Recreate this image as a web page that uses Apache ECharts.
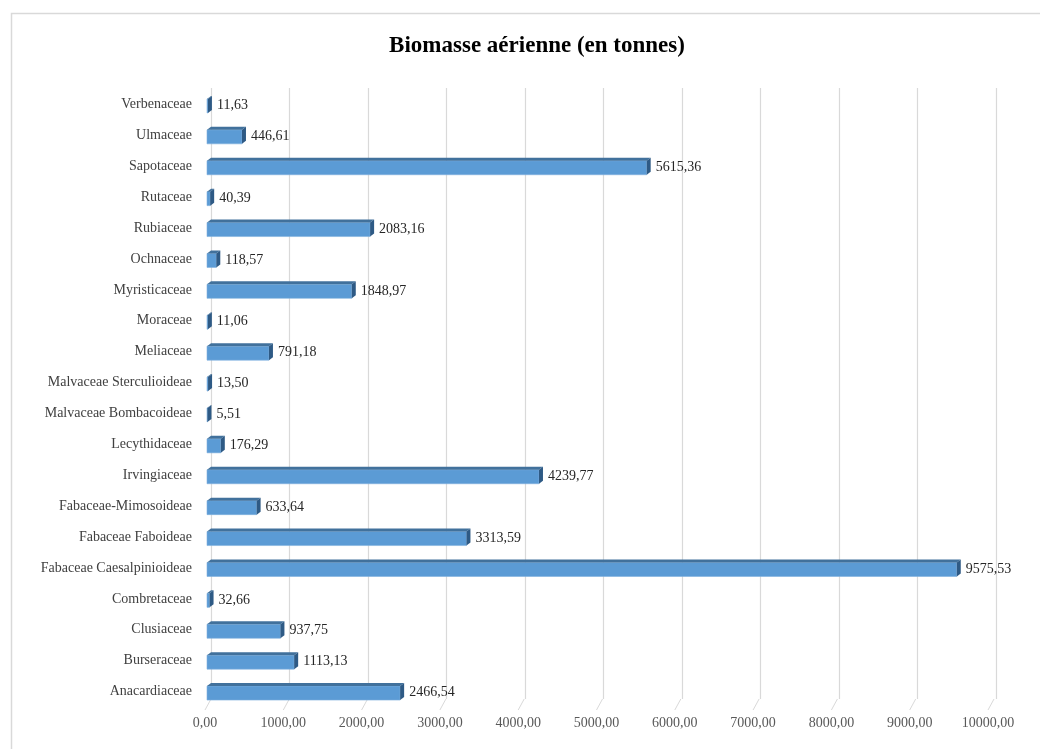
<!DOCTYPE html>
<html>
<head>
<meta charset="utf-8">
<script src="https://cdn.jsdelivr.net/npm/echarts@6/dist/echarts.min.js"></script>
<style>
html,body{margin:0;padding:0;background:#fff;}
#chart{width:1040px;height:749px;}
</style>
</head>
<body>
<div id="chart"></div>
<script>
const categories = ['Anacardiaceae','Burseraceae','Clusiaceae','Combretaceae','Fabaceae Caesalpinioideae','Fabaceae Faboideae','Fabaceae-Mimosoideae','Irvingiaceae','Lecythidaceae','Malvaceae Bombacoideae','Malvaceae Sterculioideae','Meliaceae','Moraceae','Myristicaceae','Ochnaceae','Rubiaceae','Rutaceae','Sapotaceae','Ulmaceae','Verbenaceae'];
const values = [2466.54,1113.13,937.75,32.66,9575.53,3313.59,633.64,4239.77,176.29,5.51,13.50,791.18,11.06,1848.97,118.57,2083.16,40.39,5615.36,446.61,11.63];
const xTicks = [0,1000,2000,3000,4000,5000,6000,7000,8000,9000,10000];
const titleText = 'Biomasse aérienne (en tonnes)';

const fmt = v => v.toFixed(2).replace('.', ',');
const serif = '"Liberation Serif", "DejaVu Serif", serif';

const chart = echarts.init(document.getElementById('chart'));

function renderBar(params, api) {
  const v = api.value(0), c = api.value(1);
  const p0 = api.coord([0, c]);
  const p1 = api.coord([v, c]);
  const h = 14, dx = 4, dy = 3;
  const x0 = p0[0] + 2, x1 = p1[0] + 2;
  const yTop = p0[1] - (h - dy) / 2;
  return {
    type: 'group',
    children: [
      {type: 'rect', shape: {x: x0, y: yTop, width: Math.max(x1 - x0, 0.5), height: h},
       style: {fill: '#5b9bd5', stroke: '#7fb0de', lineWidth: 0.6}},
      {type: 'polygon', shape: {points: [[x0, yTop], [x1, yTop], [x1 + dx, yTop - dy], [x0 + dx, yTop - dy]]},
       style: {fill: '#41719c'}},
      {type: 'polygon', shape: {points: [[x1, yTop], [x1 + dx, yTop - dy], [x1 + dx, yTop - dy + h], [x1, yTop + h]]},
       style: {fill: '#2e5a85'}},
      {type: 'text', x: x1 + dx + 5, y: p0[1] + 1,
       style: {text: fmt(v), fill: '#262626', font: '14px ' + serif, textVerticalAlign: 'middle', textAlign: 'left'}}
    ]
  };
}

function renderFloor(params, api) {
  const t = api.value(0);
  const p = api.coord([t, 0]);
  const cs = params.coordSys;
  const yb = cs.y + cs.height;
  return {
    type: 'line',
    shape: {x1: p[0] + 6, y1: yb - 8, x2: p[0], y2: yb + 3},
    style: {stroke: '#d9d9d9', lineWidth: 1}
  };
}

chart.setOption({
  backgroundColor: '#fff',
  animation: false,
  title: {
    text: titleText, left: 532, top: 30, textAlign: 'center',
    textStyle: {fontFamily: serif, fontWeight: 'bold', fontSize: 23, color: '#000'}
  },
  graphic: [{
    type: 'rect', left: 9, top: 11, z: -10,
    shape: {width: 1100, height: 800},
    style: {fill: 'none', stroke: '#d9d9d9', lineWidth: 1.5}
  }],
  grid: [
    {left: 205, right: 52, top: 89, bottom: 42},
    {left: 211, right: 44, top: 88, bottom: 50}
  ],
  xAxis: [
    {gridIndex: 0, type: 'value', min: 0, max: 10000, interval: 1000,
     axisLine: {show: false}, axisTick: {show: false}, splitLine: {show: false},
     axisLabel: {formatter: v => fmt(v), fontFamily: serif, fontSize: 14, color: '#595959', margin: 9}},
    {gridIndex: 1, type: 'value', min: 0, max: 10000, interval: 1000,
     axisLine: {show: false}, axisTick: {show: false}, axisLabel: {show: false},
     splitLine: {show: true, lineStyle: {color: '#d9d9d9', width: 1.2}}}
  ],
  yAxis: [
    {gridIndex: 0, type: 'category', data: categories,
     axisLine: {show: false}, axisTick: {show: false},
     axisLabel: {fontFamily: serif, fontSize: 14, color: '#404040', margin: 13}},
    {gridIndex: 1, type: 'category', data: categories, show: false}
  ],
  series: [
    {type: 'custom', xAxisIndex: 0, yAxisIndex: 0, z: 1, silent: true,
     data: xTicks.map(t => [t]), encode: {x: 0}, renderItem: renderFloor},
    {type: 'custom', xAxisIndex: 0, yAxisIndex: 0, z: 3,
     data: values.map((v, i) => [v, i]), encode: {x: 0, y: 1}, renderItem: renderBar}
  ]
});
</script>
</body>
</html>
